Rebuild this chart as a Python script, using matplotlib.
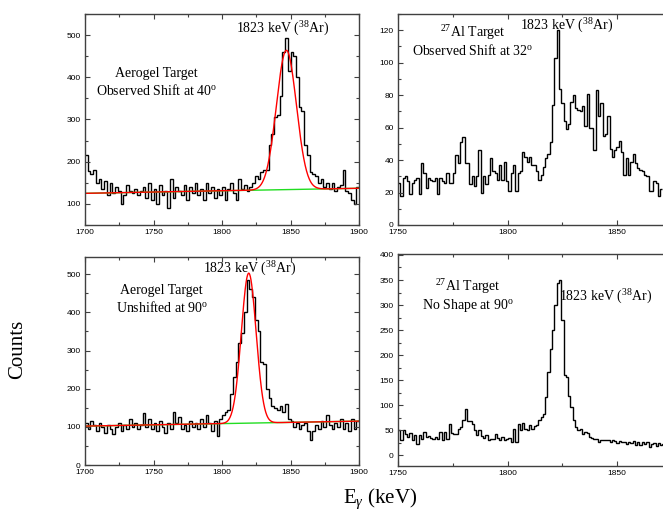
import matplotlib
matplotlib.use("Agg")
import matplotlib.pyplot as plt
import numpy as np
from matplotlib.ticker import MultipleLocator

plt.rcParams["font.family"] = ["Liberation Serif", "DejaVu Serif"]
plt.rcParams["mathtext.fontset"] = "custom"
plt.rcParams["mathtext.rm"] = "Liberation Serif"
plt.rcParams["mathtext.it"] = "Liberation Serif:italic"

# --- data ----------------------------------------------------------------
# Aerogel, 40 deg (2 keV bins from 1700 keV)
aero40_start, aero40_width = 1700, 2
aero40_counts = [
    215, 178, 170, 180, 150, 158, 135, 155, 120, 150,
    125, 140, 130, 100, 120, 145, 130, 125, 135, 120,
    130, 140, 115, 150, 110, 135, 100, 145, 120, 130,
    90, 160, 115, 140, 130, 120, 145, 110, 140, 125,
    150, 120, 135, 110, 150, 125, 140, 115, 135, 120,
    140, 110, 135, 150, 125, 110, 160, 135, 145, 130,
    140, 150, 165, 160, 175, 180, 180, 240, 265, 305,
    310, 355, 460, 492, 415, 460, 450, 400, 330, 320,
    240, 215, 175, 170, 165, 150, 160, 140, 150, 135,
    150, 130, 140, 145, 180, 130, 125, 110, 100, 140,
]
# gaussian + linear background fit
aero40_fit = dict(bg0=125.0, slope=0.06, center=1847.0, amp=330.0, sigma=7.3)

# Aerogel, 90 deg (2 keV bins from 1700 keV)
aero90_start, aero90_width = 1700, 2
aero90_counts = [
    110, 95, 115, 105, 90, 110, 100, 85, 105, 95,
    80, 100, 110, 90, 105, 95, 120, 100, 110, 95,
    105, 135, 100, 120, 95, 110, 90, 115, 100, 85,
    110, 95, 140, 110, 125, 95, 105, 90, 115, 100,
    110, 95, 120, 100, 130, 110, 90, 115, 75, 120,
    130, 140, 145, 185, 230, 270, 320, 345, 400, 485,
    460, 440, 380, 350, 270, 265, 200, 175, 155, 150,
    145, 155, 140, 160, 120, 115, 100, 110, 95, 105,
    110, 90, 65, 90, 105, 95, 115, 100, 130, 105,
    95, 110, 100, 120, 95, 110, 90, 120, 95, 115,
]
aero90_fit = dict(bg0=102.0, slope=0.065, center=1819.5, amp=393.0, sigma=5.4)

# 27Al, 32 deg (1.05 keV bins from 1750 keV)
al32_start, al32_width = 1750, 1.05
al32_counts = [
    26, 18, 29, 30, 27, 19, 26, 28, 29, 19,
    38, 32, 23, 29, 28, 27, 29, 19, 29, 27,
    26, 32, 26, 26, 32, 43, 38, 51, 54, 38,
    38, 25, 30, 24, 30, 46, 20, 30, 25, 31,
    41, 33, 32, 28, 37, 28, 39, 27, 21, 32,
    37, 21, 32, 33, 45, 42, 39, 42, 37, 37,
    33, 28, 31, 36, 41, 44, 51, 74, 103, 120,
    84, 75, 64, 59, 62, 76, 80, 72, 71, 70,
    73, 61, 81, 60, 60, 46, 83, 67, 75, 55,
    56, 67, 47, 42, 46, 48, 52, 45, 31, 41,
    31, 39, 44, 38, 35, 34, 33, 31, 30, 21,
    21, 27, 26, 18, 22,
]

# 27Al, 90 deg (1.05 keV bins from 1750 keV)
al90_start, al90_width = 1750, 1.05
al90_counts = [
    51, 30, 50, 42, 37, 45, 31, 41, 23, 40,
    33, 47, 37, 38, 35, 33, 37, 33, 47, 30,
    47, 32, 62, 45, 42, 43, 53, 57, 71, 92,
    68, 68, 62, 50, 41, 50, 39, 35, 40, 31,
    33, 33, 42, 35, 30, 37, 30, 33, 35, 27,
    52, 27, 63, 50, 65, 53, 50, 60, 53, 59,
    60, 71, 77, 83, 117, 167, 213, 250, 300, 345,
    350, 270, 160, 157, 118, 97, 70, 57, 50, 52,
    43, 47, 45, 37, 35, 33, 33, 27, 31, 31,
    30, 30, 27, 30, 28, 25, 29, 27, 26, 23,
    27, 25, 28, 20, 26, 21, 27, 23, 26, 17,
    22, 24, 19, 25, 21, 22,
]

PEAK_LABEL = "1823 keV ($^{\\mathrm{38}}$Ar)"

SPINE = "#404040"


def style(ax, xlim, ylim, xmaj, ymaj, right=True):
    ax.set_xlim(*xlim)
    ax.set_ylim(*ylim)
    ax.xaxis.set_major_locator(MultipleLocator(xmaj))
    ax.xaxis.set_minor_locator(MultipleLocator(xmaj / 2))
    ax.yaxis.set_major_locator(MultipleLocator(ymaj))
    ax.yaxis.set_minor_locator(MultipleLocator(ymaj / 2))
    ax.tick_params(which="both", direction="in", top=True, right=right,
                   color=SPINE, width=0.8)
    ax.tick_params(which="major", length=3.5, labelsize=6, pad=3)
    ax.tick_params(which="minor", length=2)
    for lab in ax.get_xticklabels() + ax.get_yticklabels():
        lab.set_family("Liberation Sans")
    for sp in ax.spines.values():
        sp.set_color(SPINE)
        sp.set_linewidth(1.0)
    if not right:
        ax.spines["right"].set_visible(False)


def hist(ax, start, width, counts):
    edges = start + width * np.arange(len(counts) + 1)
    ax.stairs(counts, edges, baseline=None, color="black", lw=1.0)


def fit(ax, p, xlim):
    x = np.linspace(xlim[0], xlim[1], 800)
    bg = p["bg0"] + p["slope"] * (x - xlim[0])
    peak = p["amp"] * np.exp(-0.5 * ((x - p["center"]) / p["sigma"]) ** 2)
    ax.plot(x, bg, color="#22dd22", lw=1.0)
    ax.plot(x, bg + peak, color="red", lw=1.0)


fig = plt.figure(figsize=(6.63, 5.19), dpi=100)

ax_tl = fig.add_axes([0.1282, 0.5665, 0.4133, 0.4066])
ax_tr = fig.add_axes([0.6003, 0.5665, 0.3997, 0.4066])
ax_bl = fig.add_axes([0.1282, 0.1040, 0.4133, 0.4008])
ax_br = fig.add_axes([0.6003, 0.1021, 0.3997, 0.4085])

txt = dict(fontsize=10, ha="center", va="center")

# top left
hist(ax_tl, aero40_start, aero40_width, aero40_counts)
fit(ax_tl, aero40_fit, (1700, 1900))
style(ax_tl, (1700, 1900), (50, 550), 50, 100)
ax_tl.text(1844, 515, PEAK_LABEL, **txt)
ax_tl.text(1752, 408, "Aerogel Target", **txt)
ax_tl.text(1752, 368, "Observed Shift at 40$^{\\mathrm{o}}$", **txt)

# top right
hist(ax_tr, al32_start, al32_width, al32_counts)
style(ax_tr, (1750, 1871), (0, 130), 50, 20, right=False)
ax_tr.text(1827, 122.5, PEAK_LABEL, **txt)
ax_tr.text(1784, 118.5, "$^{\\mathrm{27}}$Al Target", **txt)
ax_tr.text(1784, 107.5, "Observed Shift at 32$^{\\mathrm{o}}$", **txt)

# bottom left
hist(ax_bl, aero90_start, aero90_width, aero90_counts)
fit(ax_bl, aero90_fit, (1700, 1900))
style(ax_bl, (1700, 1900), (0, 545), 50, 100)
ax_bl.text(1820, 513, PEAK_LABEL, **txt)
ax_bl.text(1756, 458, "Aerogel Target", **txt)
ax_bl.text(1756, 414, "Unshifted at 90$^{\\mathrm{o}}$", **txt)

# bottom right
hist(ax_br, al90_start, al90_width, al90_counts)
style(ax_br, (1750, 1871), (-22, 402), 50, 50, right=False)
ax_br.text(1845, 316, PEAK_LABEL, **txt)
ax_br.text(1782, 336, "$^{\\mathrm{27}}$Al Target", **txt)
ax_br.text(1782, 300, "No Shape at 90$^{\\mathrm{o}}$", **txt)

fig.text(18 / 663, 1 - 349 / 519, "Counts", rotation=90, fontsize=15,
         ha="center", va="center")
fig.text(380 / 663, 1 - 499 / 519, "E$_{\\gamma}$ (keV)", fontsize=15,
         ha="center", va="center")

fig.savefig("out.png", dpi=100)
